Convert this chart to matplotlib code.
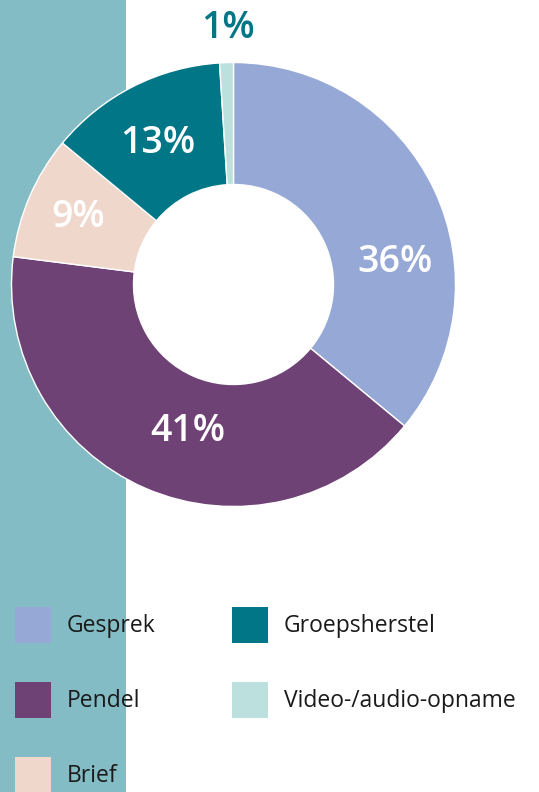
import matplotlib.pyplot as plt
from matplotlib.patches import Patch

categories = ["Gesprek", "Pendel", "Brief", "Groepsherstel", "Video-/audio-opname"]
shares = [36, 41, 9, 13, 1]
colors = ["#95A8D6", "#6F4276", "#EFD7CB", "#007686", "#BBE0DE"]
label_colors = ["white", "white", "white", "white", "#007686"]

# label positions in pixel coords (x, y from top)
label_pos = [(395, 262), (188, 431), (78, 217), (158, 143), (228, 28)]

W, H = 539, 792
fig = plt.figure(figsize=(W / 100, H / 100), dpi=100)
ax = fig.add_axes([0, 0, 1, 1])

# teal band on the left
ax.axvspan(0, 126, color="#83BCC4", zorder=0, lw=0)

cx, cy, r_out, r_in = 233.5, H - 284.5, 222, 100
ax.pie(shares, colors=colors, startangle=90, counterclock=False,
       center=(cx, cy), radius=r_out, frame=True,
       wedgeprops=dict(width=r_out - r_in, edgecolor="white", linewidth=1))
ax.set_xlim(0, W)
ax.set_ylim(0, H)
ax.set_aspect("equal")
ax.axis("off")

for v, (x, y), c in zip(shares, label_pos, label_colors):
    ax.text(x, H - y, f"{v}%", ha="center", va="center", color=c,
            fontsize=27, fontweight="semibold", family="Open Sans")

fs = 16.5
px = fs * 100 / 72
sq = 36  # legend square size in px
hh = (sq / px - 0.245) / 0.65
handles = [Patch(facecolor=c, edgecolor="none") for c in colors]
leg = ax.legend(handles, categories, ncol=2, loc="upper left",
                bbox_to_anchor=(15 / W, 1 - 607 / H),
                bbox_transform=fig.transFigure,
                frameon=False, borderpad=0, borderaxespad=0,
                handlelength=sq / px, handleheight=hh,
                handletextpad=16 / px, labelspacing=39 / px,
                columnspacing=76 / px,
                prop=dict(family="Open Sans", size=fs))
for t in leg.get_texts():
    t.set_color("#1a1a1a")

fig.savefig("out.png", dpi=100)
